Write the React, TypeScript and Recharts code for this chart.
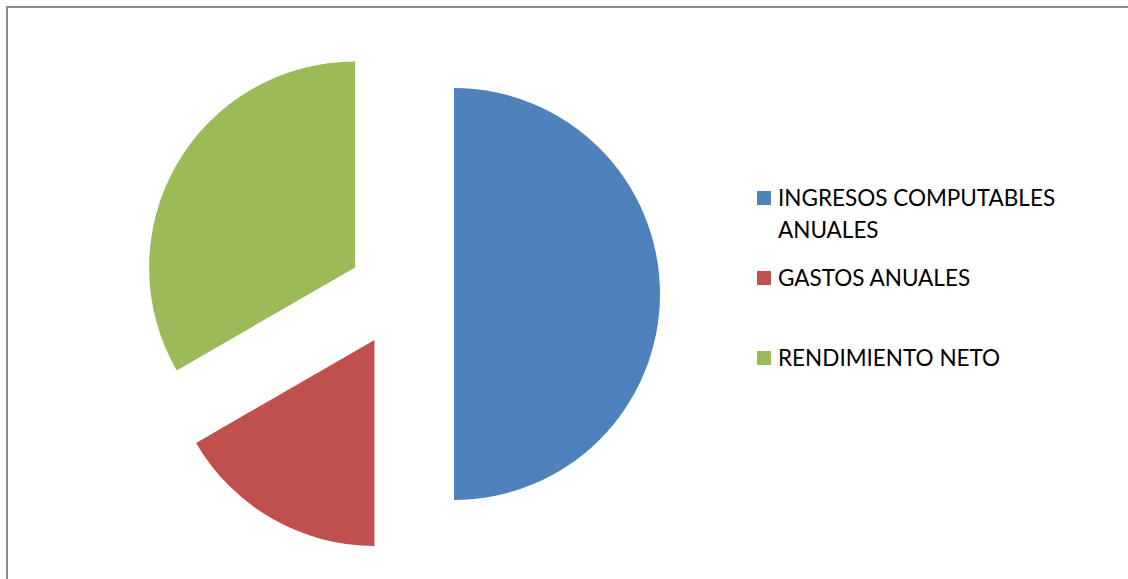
import { PieChart, Pie, Cell, Legend, Sector } from "recharts";

const categories = ["INGRESOS COMPUTABLES ANUALES", "GASTOS ANUALES", "RENDIMIENTO NETO"];
const values = [150, 50, 100];
const colors = ["#4F81BD", "#C0504D", "#9BBB59"];

const data = categories.map((name, i) => ({ name, value: values[i] }));

const EXPLODE = 53;
const RAD = Math.PI / 180;

// pulls each slice out from the centre along its mid angle
function ExplodedSector(props: any) {
  const { cx, cy, midAngle } = props;
  const dx = EXPLODE * Math.cos(-midAngle * RAD);
  const dy = EXPLODE * Math.sin(-midAngle * RAD);
  return <Sector {...props} cx={cx + dx} cy={cy + dy} stroke="none" />;
}

function LegendContent({ payload }: any) {
  const lines: Record<string, string[]> = {
    "INGRESOS COMPUTABLES ANUALES": ["INGRESOS COMPUTABLES", "ANUALES"],
  };
  const items = [...(payload || [])].sort(
    (a: any, b: any) => categories.indexOf(a.value) - categories.indexOf(b.value)
  );
  return (
    <div style={{ fontFamily: "Lato, 'Open Sans', sans-serif", fontSize: 22.5, color: "#000" }}>
      {items.map((p: any) => (
        <div key={p.value} style={{ display: "flex", height: 80, lineHeight: "32px" }}>
          <span
            style={{
              width: 14,
              height: 14,
              marginTop: 9,
              marginRight: 7,
              background: p.color,
              flex: "none",
            }}
          />
          <div>
            {(lines[p.value] || [p.value]).map((l) => (
              <div key={l}>{l}</div>
            ))}
          </div>
        </div>
      ))}
    </div>
  );
}

export default function App() {
  return (
    <div style={{ position: "absolute", left: 0, top: 0, width: 1128, height: 579, overflow: "hidden", background: "#fff" }}>
      <div
        style={{
          position: "absolute",
          left: 6,
          top: 6,
          width: 1140,
          height: 600,
          borderTop: "2px solid #8c8c8c",
          borderLeft: "2px solid #8c8c8c",
        }}
      />
      <div style={{ position: "absolute", left: 0, top: 0 }}>
        <PieChart width={1128} height={579}>
          <Pie
            data={data}
            dataKey="value"
            nameKey="name"
            cx={396}
            cy={289}
            outerRadius={206}
            startAngle={90}
            endAngle={-270}
            stroke="none"
            shape={ExplodedSector}
            activeShape={ExplodedSector}
            isAnimationActive={false}
          >
            {data.map((d, i) => (
              <Cell key={d.name} fill={colors[i]} />
            ))}
          </Pie>
          <Legend
            layout="vertical"
            content={<LegendContent />}
            wrapperStyle={{ position: "absolute", left: 757, top: 182, width: 360 }}
          />
        </PieChart>
      </div>
    </div>
  );
}
